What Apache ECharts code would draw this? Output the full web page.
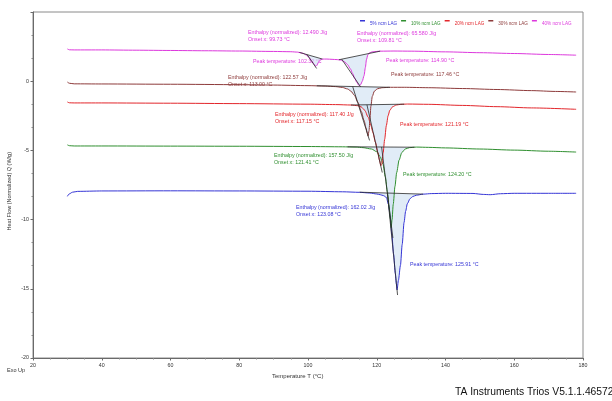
<!DOCTYPE html>
<html>
<head>
<meta charset="utf-8">
<style>
  html, body { margin: 0; padding: 0; background: #ffffff; }
  #chart { width: 612px; height: 401px; }
</style>
<script src="https://cdn.jsdelivr.net/npm/echarts@6/dist/echarts.min.js"></script>
</head>
<body>
<div id="chart"></div>
<script>
// DSC heat-flow traces (Exo Up) for the five ncm LAG samples.
const seriesNames = ['5% ncm LAG', '10% ncm LAG', '20% ncm LAG', '30% ncm LAG', '40% ncm LAG'];

// Analysed peaks: 5%, 10%, 20%, 30%, 40% (minor), 40% (main)
const peakTemperature = [125.91, 124.20, 121.19, 117.46, 102.32, 114.90];
const onsetTemperature = [123.08, 121.41, 117.15, 113.00, 99.73, 109.81];
const enthalpyNormalized = ['162.02', '157.50', '117.40', '122.57', '12.490', '65.580'];
const peakOfCurve = [0, 1, 2, 3, 4, 4];

// Integration baselines (start / end) and leading-edge tangents (onset / end), [T, Q]
const baselineStart = [[115.0, -8.02], [111.5, -4.74], [112.5, -1.72], [102.5, -0.33], [97.5, 2.08], [109.0, 1.55]];
const baselineEnd = [[133.5, -8.16], [131.0, -4.77], [128.0, -1.66], [123.8, -0.44], [104.2, 1.60], [121.0, 2.17]];
const tangentStart = [[123.08, -8.07], [121.41, -4.75], [117.15, -1.71], [113.00, -0.39], [99.73, 1.92], [109.81, 1.59]];
const tangentEnd = [[126.05, -15.45], [124.70, -11.33], [121.60, -6.60], [117.90, -4.28], [102.50, 0.92], [115.30, -0.41]];

// Heat flow Q (W/g) against temperature T (°C)
const curve5 = [
  [30, -8.32], [30.5, -8.15], [31.5, -8.02], [33, -7.96], [40, -7.93], [60, -7.92], [80, -7.93],
  [100, -7.95], [110, -7.99], [115, -8.03], [118, -8.08], [120, -8.15], [121, -8.2], [122, -8.27],
  [122.8, -8.4], [123.4, -8.9], [123.9, -9.75], [124.4, -11.1], [124.9, -12.5], [125.4, -13.9],
  [125.7, -14.65], [peakTemperature[0], -15.08], [126.3, -14.4], [126.9, -13.3], [127.4, -11.8],
  [127.95, -10.2], [128.4, -9.4], [128.9, -8.85], [129.7, -8.48], [130.5, -8.33], [131.5, -8.24],
  [133.5, -8.16], [136, -8.12], [140, -8.1], [148, -8.11], [151, -8.18], [153, -8.2], [156, -8.13],
  [160, -8.1], [170, -8.1], [178, -8.1]
];
const curve10 = [
  [30, -4.6], [30.6, -4.66], [32, -4.68], [40, -4.68], [60, -4.69], [80, -4.7], [100, -4.72],
  [110, -4.74], [114, -4.76], [116, -4.8], [118.5, -4.9], [120, -5.1], [121, -5.45], [121.8, -6.0],
  [122.5, -6.9], [123.1, -8.0], [123.6, -9.1], [124.0, -10.0], [peakTemperature[1], -10.58],
  [124.45, -10.0], [124.8, -8.9], [125.3, -7.6], [125.8, -6.6], [126.5, -5.7], [127.3, -5.15],
  [128.3, -4.9], [129.5, -4.8], [131.5, -4.76], [135, -4.78], [140, -4.82], [150, -4.9],
  [160, -4.98], [170, -5.06], [178, -5.12]
];
const curve20 = [
  [30, -1.5], [30.6, -1.56], [32, -1.57], [40, -1.57], [60, -1.59], [80, -1.62], [100, -1.66],
  [108, -1.69], [112.5, -1.72], [114.5, -1.77], [115.5, -1.86], [116.5, -2.1], [117.5, -2.6],
  [118.3, -3.2], [118.9, -3.72], [119.6, -4.4], [120.3, -5.15], [120.8, -5.7], [peakTemperature[2], -6.1],
  [121.5, -5.95], [121.85, -5.2], [122.3, -4.2], [122.8, -3.2], [123.3, -2.5], [123.8, -2.1],
  [124.6, -1.85], [125.7, -1.72], [127, -1.67], [129, -1.65], [135, -1.67], [145, -1.75],
  [155, -1.84], [165, -1.93], [178, -2.03]
];
const curve30 = [
  [30, -0.06], [30.6, -0.15], [32, -0.19], [40, -0.2], [60, -0.22], [80, -0.25], [90, -0.28],
  [100, -0.32], [105, -0.35], [108, -0.39], [110, -0.45], [111.5, -0.56], [112.5, -0.72],
  [113.5, -1.02], [114.5, -1.52], [115.5, -2.18], [116.3, -2.83], [116.9, -3.38], [117.2, -3.72],
  [peakTemperature[3], -3.97], [117.75, -3.6], [118.0, -2.8], [118.3, -1.8], [118.7, -1.1],
  [119.3, -0.72], [120.2, -0.55], [121.5, -0.47], [124, -0.44], [128, -0.44], [135, -0.47],
  [145, -0.53], [155, -0.6], [165, -0.68], [172, -0.74], [178, -0.78]
];
const curve40 = [
  [30, 2.33], [30.6, 2.27], [32, 2.26], [40, 2.26], [50, 2.24], [60, 2.22], [70, 2.2], [80, 2.18],
  [90, 2.15], [95, 2.13], [97, 2.1], [98.5, 2.02], [99.5, 1.9], [100.3, 1.72], [101.0, 1.5],
  [101.6, 1.28], [102.0, 1.15], [peakTemperature[4], 1.08], [102.6, 1.15], [103.0, 1.35],
  [103.5, 1.52], [104.2, 1.6], [105.5, 1.6], [107, 1.58], [108.5, 1.56], [109.5, 1.53],
  [110.5, 1.42], [111.5, 1.2], [112.3, 0.9], [113.0, 0.55], [113.6, 0.2], [114.2, -0.08],
  [114.6, -0.25], [peakTemperature[5], -0.32], [115.3, -0.25], [115.8, 0.0], [116.3, 0.4],
  [116.7, 1.0], [117.0, 1.55], [117.4, 1.9], [117.9, 2.05], [118.7, 2.12], [121, 2.17],
  [125, 2.18], [130, 2.17], [140, 2.12], [150, 2.06], [160, 2.0], [170, 1.93], [178, 1.88]
];
const curves = [curve5, curve10, curve20, curve30, curve40];

// Axis tick values
const xTicks = [20, 40, 60, 80, 100, 120, 140, 160, 180];
const yTicks = [-20, -15, -10, -5, 0, 5];

// Styling and text placement
const lineColors = ['#3535d6', '#2f8f2f', '#e3262b', '#8e3b3b', '#dd38dd'];
const FONT = '"Liberation Sans", Arial, sans-serif';
const textColor = '#333333';
const enthalpyPos = [[296, 204], [274, 152], [275, 111], [228, 74], [248, 29], [357, 30]];
const peakLabelPos = [[410, 262], [403, 172], [400, 122], [391, 72], [253, 59], [386, 58]];

const chart = echarts.init(document.getElementById('chart'), null, { renderer: 'canvas' });

// Shaded area between each integration baseline and its trace
const fillSeries = {
  type: 'custom',
  name: 'fill',
  coordinateSystem: 'cartesian2d',
  silent: true,
  clip: true,
  z: 1,
  data: peakTemperature.map((t, i) => [t, i]),
  renderItem: function (params, api) {
    const i = params.dataIndex;
    const c = curves[peakOfCurve[i]];
    const a = baselineStart[i], b = baselineEnd[i];
    const pts = [api.coord(a)];
    c.forEach(p => { if (p[0] > a[0] && p[0] < b[0]) pts.push(api.coord(p)); });
    pts.push(api.coord(b));
    return { type: 'polygon', shape: { points: pts }, style: { fill: 'rgba(205,224,242,0.6)' } };
  }
};

// Baseline and onset tangent construction lines
const constructionSeries = {
  type: 'custom',
  name: 'construction',
  coordinateSystem: 'cartesian2d',
  silent: true,
  clip: true,
  z: 4,
  data: peakTemperature.map((t, i) => [t, i]),
  renderItem: function (params, api) {
    const i = params.dataIndex;
    const s1 = api.coord(baselineStart[i]), e1 = api.coord(baselineEnd[i]);
    const s2 = api.coord(tangentStart[i]), e2 = api.coord(tangentEnd[i]);
    const st = { stroke: '#2a2a2a', lineWidth: 0.8 };
    return {
      type: 'group',
      children: [
        { type: 'line', shape: { x1: s1[0], y1: s1[1], x2: e1[0], y2: e1[1] }, style: st },
        { type: 'line', shape: { x1: s2[0], y1: s2[1], x2: e2[0], y2: e2[1] }, style: st }
      ]
    };
  }
};

const lineSeries = seriesNames.map((name, k) => ({
  type: 'line',
  name: name,
  data: curves[k],
  showSymbol: false,
  smooth: 0.25,
  smoothMonotone: 'x',
  z: 3,
  lineStyle: { color: lineColors[k], width: 1 },
  itemStyle: { color: lineColors[k] }
}));

// Annotation text
const graphics = [];
peakTemperature.forEach((t, i) => {
  const col = lineColors[peakOfCurve[i]];
  graphics.push({
    type: 'text', left: enthalpyPos[i][0], top: enthalpyPos[i][1], silent: true,
    style: {
      text: 'Enthalpy (normalized): ' + enthalpyNormalized[i] + ' J/g\nOnset x: ' + onsetTemperature[i].toFixed(2) + ' °C',
      fill: col, font: '5.3px ' + FONT, lineHeight: 7
    }
  });
  graphics.push({
    type: 'text', left: peakLabelPos[i][0], top: peakLabelPos[i][1], silent: true,
    style: { text: 'Peak temperature: ' + t.toFixed(2) + ' °C', fill: col, font: '5.3px ' + FONT }
  });
});
graphics.push({
  type: 'text', left: 272, top: 373, silent: true,
  style: { text: 'Temperature T (°C)', fill: textColor, font: '6px ' + FONT }
});
graphics.push({
  type: 'text', left: 6, top: 152, rotation: Math.PI / 2, silent: true,
  style: { text: 'Heat Flow (Normalized) Q (W/g)', fill: textColor, font: '5.5px ' + FONT }
});
graphics.push({
  type: 'text', left: 7, top: 367, silent: true,
  style: { text: 'Exo Up', fill: textColor, font: '5.5px ' + FONT }
});
graphics.push({
  type: 'text', left: 455, top: 387, silent: true,
  style: { text: 'TA Instruments Trios V5.1.1.46572', fill: '#111111', font: '10.3px ' + FONT }
});

chart.setOption({
  animation: false,
  backgroundColor: '#ffffff',
  textStyle: { fontFamily: FONT },
  grid: {
    left: 33, right: 29, top: 12, bottom: 43,
    show: true, borderColor: '#8a8a8a', borderWidth: 1, backgroundColor: 'transparent'
  },
  legend: {
    left: 355, top: 15,
    itemWidth: 5, itemHeight: 8, itemGap: 4,
    symbolKeepAspect: false,
    // short dash sitting at the top-left of each label
    icon: 'path://M0,0h10v2h-10z M0,9.9h0.01v0.1h-0.01z',
    textStyle: { fontSize: 4.6 },
    data: seriesNames.map((n, k) => ({ name: n, textStyle: { color: lineColors[k] } }))
  },
  xAxis: {
    type: 'value',
    min: xTicks[0], max: xTicks[xTicks.length - 1], interval: 20,
    axisLine: { show: true, onZero: false, lineStyle: { color: '#6a6a6a', width: 1 } },
    axisTick: { show: true, length: 2.5, lineStyle: { color: '#6a6a6a' } },
    minorTick: { show: true, splitNumber: 4, length: 1.5, lineStyle: { color: '#8a8a8a' } },
    axisLabel: { fontSize: 5.3, color: textColor, margin: 5 },
    splitLine: { show: false }
  },
  yAxis: {
    type: 'value',
    min: yTicks[0], max: yTicks[yTicks.length - 1], interval: 5,
    axisLine: { show: true, onZero: false, lineStyle: { color: '#6a6a6a', width: 1 } },
    axisTick: { show: true, length: 2.5, lineStyle: { color: '#6a6a6a' } },
    minorTick: { show: true, splitNumber: 3, length: 1.5, lineStyle: { color: '#8a8a8a' } },
    axisLabel: {
      fontSize: 5.3, color: textColor, margin: 4,
      formatter: v => (v > 0 ? '' : String(v))
    },
    splitLine: { show: false }
  },
  series: [fillSeries].concat(lineSeries, [constructionSeries]),
  graphic: graphics
});
</script>
</body>
</html>
